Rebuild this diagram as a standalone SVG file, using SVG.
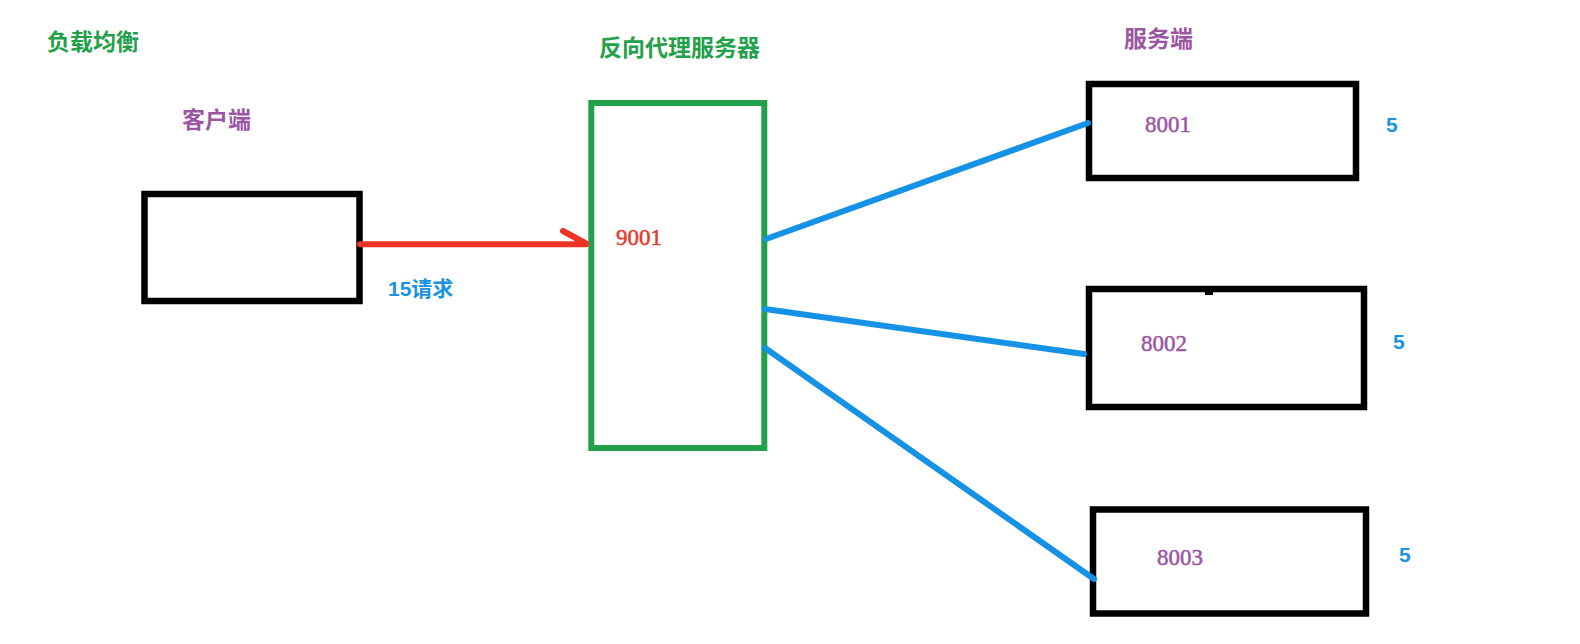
<svg xmlns="http://www.w3.org/2000/svg" width="1580" height="644" viewBox="0 0 1580 644">
<style>
.box{fill:none;stroke:#000;stroke-width:6.5}
.proxy{fill:none;stroke:#22a04a;stroke-width:6}
.cn{font-family:"Noto Sans CJK SC",sans-serif;font-weight:bold;font-size:23px}
.num{font-family:"Liberation Serif",serif;font-size:23px;stroke-width:0.5}
.w{font-family:"Liberation Sans","Noto Sans CJK SC",sans-serif;font-weight:bold;font-size:21px;fill:#1a93e0}
.g{fill:#22a04a}
.p{fill:#9b55a3;stroke:#9b55a3}
.blue{stroke:#1592e6;stroke-width:6;stroke-linecap:round;fill:none}
.red{stroke:#ee3424;stroke-width:6;stroke-linecap:round;fill:none}
</style>
<rect width="1580" height="644" fill="#fff"/>
<text class="cn g" x="47" y="50">负载均衡</text>
<g id="client">
<text class="cn p" x="182" y="128" style="stroke:none">客户端</text>
<rect class="box" x="144.5" y="194" width="215" height="107"/>
</g>
<g id="proxy">
<text class="cn g" x="599" y="56">反向代理服务器</text>
<rect class="proxy" x="591.3" y="103" width="173" height="345"/>
<text class="num" x="616" y="244.5" fill="#e53b2c" stroke="#e53b2c">9001</text>
</g>
<g id="server-title">
<text class="cn p" x="1124" y="47" style="stroke:none">服务端</text>
</g>
<g id="s1">
<rect class="box" x="1089" y="84" width="267" height="94"/>
<text class="num p" x="1145" y="132">8001</text>
<text class="w" x="1386" y="132">5</text>
</g>
<g id="s2">
<rect class="box" x="1089" y="289" width="275" height="118"/>
<rect x="1205" y="288" width="8" height="7" fill="#000"/>
<text class="num p" x="1141" y="350.5">8002</text>
<text class="w" x="1393" y="349">5</text>
</g>
<g id="s3">
<rect class="box" x="1093" y="509.5" width="273" height="104"/>
<text class="num p" x="1157" y="564.5">8003</text>
<text class="w" x="1399" y="562">5</text>
</g>
<g id="connectors">
<path class="red" d="M360 244.3 H586 M563 231 L586 243.5"/>
<path class="blue" d="M766 239 L1088 123"/>
<path class="blue" d="M765 309 L1084 354"/>
<path class="blue" d="M765 348 L1094 579"/>
</g>
<text class="w" x="388" y="296">15请求</text>
</svg>
